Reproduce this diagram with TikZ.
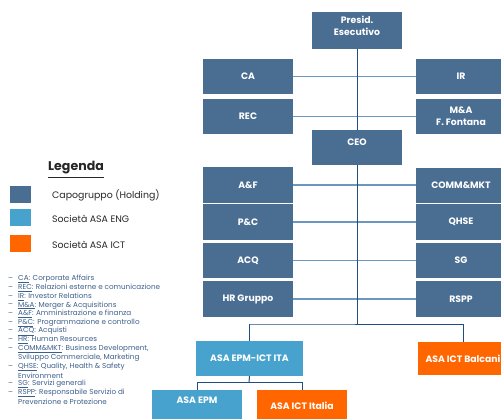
\documentclass[tikz,border=0pt]{standalone}
\usepackage{fontspec}
\setmainfont{Poppins}
\usetikzlibrary{calc}
\definecolor{hold}{HTML}{4A6D92}
\definecolor{eng}{HTML}{47A3CE}
\definecolor{ict}{HTML}{FF6600}
\definecolor{vline}{HTML}{1F4F7F}
\definecolor{hline}{HTML}{6B98C0}
\definecolor{lsttxt}{HTML}{3C5F8A}
\begin{document}
\begin{tikzpicture}[x=1pt,y=-1pt,
  box/.style={rectangle, fill=#1, minimum width=90pt, minimum height=35pt, inner sep=0pt},
  btxt/.style={text=white, font=\bfseries\fontsize{9.3}{12}\selectfont, align=center, inner sep=0pt},
  lbox/.style={box=#1, text=white, font=\bfseries\fontsize{9.3}{12}\selectfont, align=center},
  vl/.style={draw=vline, line width=1pt},
  hl/.style={draw=hline, line width=1.4pt},
  sq/.style={rectangle, fill=#1, minimum width=21pt, minimum height=17pt, inner sep=0pt},
  legt/.style={anchor=west, inner sep=0pt, font=\fontsize{9.4}{10}\selectfont, text=black!85},
  lst/.style={anchor=west, inner sep=0pt, font=\fontsize{7.2}{8}\selectfont, text=lsttxt},
  dsh/.style={anchor=west, inner sep=0pt, font=\fontsize{7.2}{8}\selectfont, text=lsttxt}]
\useasboundingbox (0,0) rectangle (501,418);
\clip (0,0) rectangle (501,418);
% boxes
\node[box=hold, minimum height=37pt] (pres) at (357,30.5) {};
\node[btxt] (prest) at (357,26) {Presid.\\Esecutivo};
\node[lbox=hold] (ca) at (248,76.5) {CA};
\node[lbox=hold] (rec) at (248,116.5) {REC};
\node[lbox=hold] (ir) at (461,76.5) {IR};
\node[lbox=hold] (ma) at (461,116.5) {M\&A\\F. Fontana};
\node[box=hold] (ceo) at (357,147.5) {};
\node[btxt] (ceot) at (357,142) {CEO};
\node[lbox=hold, minimum height=36pt] (af) at (248,185) {A\&F};
\node[lbox=hold, minimum height=36pt] (pc) at (248,222) {P\&C};
\node[lbox=hold] (acq) at (248,260.5) {ACQ};
\node[lbox=hold, minimum height=36pt] (hr) at (248,299) {HR Gruppo};
\node[lbox=hold, minimum height=35pt] (comm) at (461,185) {COMM\&MKT};
\node[lbox=hold, minimum height=36pt] (qhse) at (461,222) {QHSE};
\node[lbox=hold] (sg) at (461,260.5) {SG};
\node[lbox=hold, minimum height=36pt] (rspp) at (461,299) {RSPP};
\node[lbox=eng, minimum width=107pt] (epmict) at (249.5,358.5) {ASA EPM-ICT ITA};
\node[lbox=ict, minimum height=33pt] (balc) at (463,358.5) {ASA ICT Balcani};
\node[box=eng] (epm) at (197,407.5) {};
\node[btxt] (epmt) at (197,400) {ASA EPM};
\node[box=ict] (ictit) at (302,407.5) {};
\node[btxt] (ictitt) at (302,406) {ASA ICT Italia};
% connectors
\coordinate (bus) at (357,324);
\coordinate (busl) at (249,324);
\coordinate (busr) at (463,324);
\coordinate (sub) at (249,382);
\coordinate (subl) at (197,382);
\coordinate (subr) at (302,382);
\draw[hl] (ca.east) -- (ir.west);
\draw[hl] (rec.east) -- (ma.west);
\draw[hl] (af.east) -- (comm.west);
\draw[hl] (pc.east) -- (qhse.west);
\draw[hl] (acq.east) -- (sg.west);
\draw[hl] (hr.east) -- (rspp.west);
\draw[vl] (pres.south) -- (ceo.north);
\draw[vl] (ceo.south) -- (bus);
\draw[vl] (epmict.north) |- (busl) -- (busr) -- (balc.north);
\draw[vl] (epmict.south) -- (sub);
\draw[vl] (epm.north) |- (subl) -- (subr) -- (ictit.north);
% legend
\node[anchor=west, inner sep=0pt, font=\bfseries\fontsize{12.6}{14}\selectfont, text=black!85] (leg) at (48,168) {Legenda};
\draw[line width=1pt, black!85] ($(leg.south west)+(0,2.5)$) -- ($(leg.south east)+(0,2.5)$);
\node[sq=hold] (sq1) at (20.5,194.5) {};
\node[sq=eng] (sq2) at (20.5,217.5) {};
\node[sq=ict] (sq3) at (20.5,243.5) {};
\node[legt] (lt1) at (52,195) {Capogruppo (Holding)};
\node[legt] (lt2) at (52,219) {Società ASA ENG};
\node[legt] (lt3) at (52,245) {Società ASA ICT};
% list
\node[dsh] (d1) at (8,279) {--};
\node[lst] (i1) at (18,279) {\underline{CA}: Corporate Affairs};
\node[dsh] (d2) at (8,288) {--};
\node[lst] (i2) at (18,288) {\underline{REC}: Relazioni esterne e comunicazione};
\node[dsh] (d3) at (8,297) {--};
\node[lst] (i3) at (18,297) {\underline{IR}: Investor Relations};
\node[dsh] (d4) at (8,305.5) {--};
\node[lst] (i4) at (18,305.5) {\underline{M\&A}: Merger \& Acquisitions};
\node[dsh] (d5) at (8,314) {--};
\node[lst] (i5) at (18,314) {\underline{A\&F}: Amministrazione e finanza};
\node[dsh] (d6) at (8,323) {--};
\node[lst] (i6) at (18,323) {\underline{P\&C}: Programmazione e controllo};
\node[dsh] (d7) at (8,331.5) {--};
\node[lst] (i7) at (18,331.5) {\underline{ACQ}: Acquisti};
\node[dsh] (d8) at (8,340) {--};
\node[lst] (i8) at (18,340) {\underline{HR}: Human Resources};
\node[dsh] (d9) at (8,349) {--};
\node[lst] (i9) at (18,349) {\underline{COMM\&MKT}: Business Development,};
\node[lst] (i9b) at (18,358) {Sviluppo Commerciale, Marketing};
\node[dsh] (d10) at (8,367) {--};
\node[lst] (i10) at (18,367) {\underline{QHSE}: Quality, Health \& Safety};
\node[lst] (i10b) at (18,375.5) {Environment};
\node[dsh] (d11) at (8,384) {--};
\node[lst] (i11) at (18,384) {\underline{SG}: Servizi generali};
\node[dsh] (d12) at (8,393) {--};
\node[lst] (i12) at (18,393) {\underline{RSPP}: Responsabile Servizio di};
\node[lst] (i12b) at (18,402) {Prevenzione e Protezione};
\end{tikzpicture}
\end{document}
